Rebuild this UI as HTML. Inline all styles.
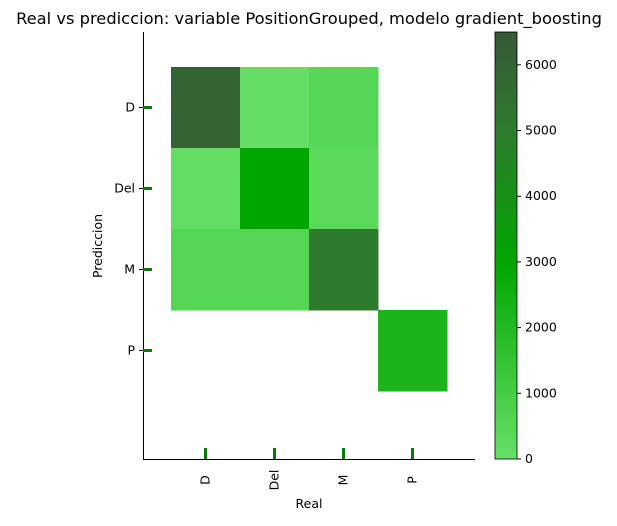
<!DOCTYPE html>
<html><head><meta charset="utf-8"><style>
body{margin:0;background:#fff;font-family:"Liberation Sans","DejaVu Sans",sans-serif;}
svg text{font-family:"DejaVu Sans","Liberation Sans",sans-serif;}
</style></head><body>
<svg id="chart" width="617" height="521" viewBox="0 0 617 521" xmlns="http://www.w3.org/2000/svg">
<defs><linearGradient id="cbg" x1="0" y1="1" x2="0" y2="0">
<stop offset="0" stop-color="#67e067"/><stop offset="0.46" stop-color="#00a600"/><stop offset="0.77" stop-color="#2e7b2e"/><stop offset="1" stop-color="#365836"/>
</linearGradient></defs>
<text x="309" y="24" font-size="16.3" text-anchor="middle">Real vs prediccion: variable PositionGrouped, modelo gradient_boosting</text>
<g id="cells"></g>
<line x1="143.5" y1="32" x2="143.5" y2="459.5" stroke="#000" stroke-width="1"/>
<line x1="143" y1="459.5" x2="475" y2="459.5" stroke="#000" stroke-width="1"/>
<g id="ticks"></g>
<text x="309" y="508" font-size="12.5" text-anchor="middle">Real</text>
<text transform="translate(102,246) rotate(-90)" font-size="12.5" text-anchor="middle">Prediccion</text>
<rect x="495" y="32" width="22" height="427" fill="url(#cbg)" stroke="#000" stroke-width="0.8"/>
<g id="cbticks"></g>
</svg>
<script>
const categories = ["D","Del","M","P"];
// rows = prediccion, cols = real; null = absent
const values = [
  [6050, 100, 500, null],
  [150, 3000, 350, null],
  [550, 550, 5000, null],
  [null, null, null, 2200]
];
const cbTicks = [0,1000,2000,3000,4000,5000,6000];
const vmin = 0, vmax = 6500;
const NS = "http://www.w3.org/2000/svg";
const x0 = 171, cw = 69, y0 = 67, ch = 81;
function xPos(i){return x0 + i*cw;}
function yPos(i){return y0 + i*ch;}
function cbY(v){return 459 - (v - vmin)/(vmax - vmin)*427;}
const stops=[[0,[0x67,0xe0,0x67]],[0.46,[0x00,0xa6,0x00]],[0.77,[0x2e,0x7b,0x2e]],[1,[0x36,0x58,0x36]]];
function color(v){
  let t=Math.max(0,Math.min(1,(v-vmin)/(vmax-vmin)));
  for(let k=0;k<stops.length-1;k++){
    const [a,ca]=stops[k],[b,cb]=stops[k+1];
    if(t<=b){const f=(t-a)/(b-a);const c=ca.map((x,j)=>Math.round(x+(cb[j]-x)*f));return `rgb(${c})`;}
  }
  return "rgb(54,88,54)";
}
function mk(tag,attrs,parent){const e=document.createElementNS(NS,tag);for(const k in attrs)e.setAttribute(k,attrs[k]);parent.appendChild(e);return e;}
const cells=document.getElementById("cells");
values.forEach((row,r)=>row.forEach((v,c)=>{
  if(v===null)return;
  const e=mk("rect",{x:xPos(c),y:yPos(r),width:cw+0.5,height:ch+0.5,fill:color(v)},cells);
  
  
}));
const ticks=document.getElementById("ticks");
categories.forEach((cat,i)=>{
  const cx=xPos(i)+cw/2, cy=yPos(i)+ch/2;
  const a=mk("line",{x1:cx,y1:448,x2:cx,y2:459,stroke:"#0a7a0a","stroke-width":3},ticks);
  
  
  const b=mk("line",{x1:143,y1:cy,x2:152,y2:cy,stroke:"#0a7a0a","stroke-width":3},ticks);
  
  
  mk("line",{x1:139,y1:cy,x2:143,y2:cy,stroke:"#000","stroke-width":1},ticks);
  const tx=mk("text",{transform:`translate(${cx+4},480) rotate(-90)`,"font-size":12.5,"text-anchor":"middle"},ticks);
  tx.textContent=cat;
  
  
  const ty=mk("text",{x:135,y:cy+4,"font-size":12.5,"text-anchor":"end"},ticks);
  ty.textContent=cat;
  
  
});
const cbt=document.getElementById("cbticks");
cbTicks.forEach(v=>{
  const y=cbY(v);
  mk("line",{x1:517,y1:y,x2:521,y2:y,stroke:"#000","stroke-width":1},cbt);
  const t=mk("text",{x:525,y:y+4,"font-size":12.5},cbt);
  t.textContent=v;
  
  
});
</script>
</body></html>
